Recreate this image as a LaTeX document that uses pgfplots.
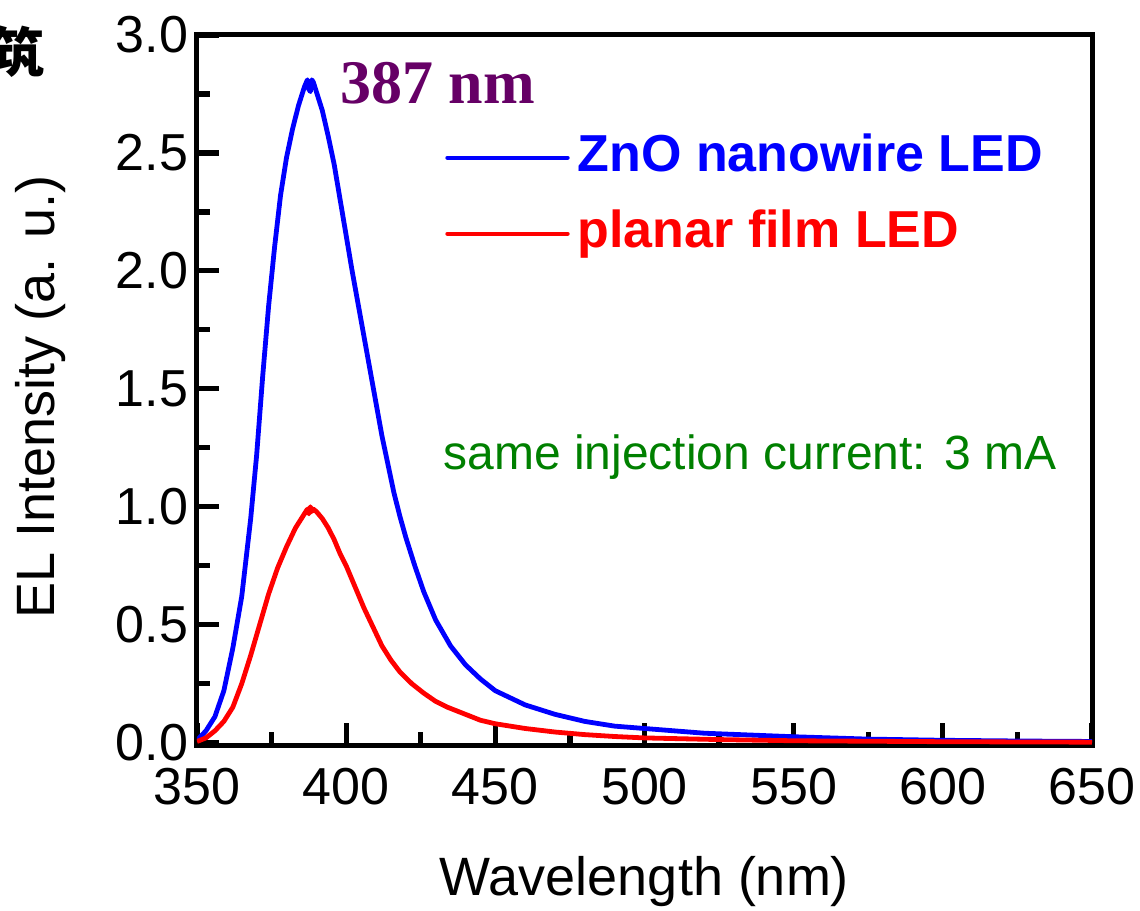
\documentclass[border=0pt]{standalone}
\usepackage{pgfplots}
\pgfplotsset{compat=1.18}
\usepackage{fontspec}
\setmainfont{Liberation Sans}
\newfontfamily\serifb{Liberation Serif}
\newfontfamily\cjk{Noto Sans CJK SC}
\definecolor{myblue}{RGB}{0,0,255}
\definecolor{myred}{RGB}{255,0,0}
\definecolor{mygreen}{RGB}{0,128,0}
\definecolor{mypurple}{RGB}{102,0,102}
\begin{document}
\begin{tikzpicture}
\useasboundingbox (-98.5pt,-82.5pt) rectangle (471.5pt,372.5pt);
\begin{axis}[
  scale only axis,
  width=447.5pt, height=355pt,
  xmin=350, xmax=650, ymin=-0.01, ymax=3.0,
  xtick={350,400,...,650},
  ytick={0,0.5,...,3.0},
  minor x tick num=1, minor y tick num=1,
  tick pos=left, tick align=inside,
  major tick length=11pt, minor tick length=6.5pt,
  every tick/.style={},
  tick style={draw=black, line width=2.6pt},
  axis line style={line width=2.5pt},
  /pgf/number format/assume math mode=true,
  yticklabel style={/pgf/number format/fixed, /pgf/number format/fixed zerofill, /pgf/number format/precision=1, xshift=-1pt},
  ticklabel style={font=\fontsize{26}{30}\selectfont},
  xticklabel style={yshift=-8pt},
  xlabel={Wavelength (nm)},
  ylabel={EL Intensity (a. u.)},
  label style={font=\fontsize{27}{32}\selectfont},
  xlabel style={at={(axis description cs:0.5,-0.193)}, anchor=center},
  ylabel style={at={(axis description cs:-0.175,0.49)}, anchor=center, rotate=0},
  legend style={draw=none, fill=none, at={(axis cs:433.1,2.583)}, anchor=north west,
    inner sep=0pt, row sep=14pt, column sep=4pt,
    nodes={inner sep=0pt, text height=19pt, text depth=5pt, anchor=west},
    font=\fontsize{26}{30}\selectfont\bfseries},
  legend image code/.code={\draw[#1, line width=2.2pt, line cap=round] (0pt,0pt) -- (60pt,0pt);},
  legend cell align=left,
]
\addplot[myblue, line width=2.4pt, line join=round] coordinates {
(350,0.01) (353,0.05) (356,0.11) (359,0.22) (362,0.40) (365,0.62) (368,0.95)
(370,1.22) (372,1.55) (374,1.85) (376,2.10) (378,2.32) (380,2.48) (382,2.60)
(384,2.70) (385,2.74) (386,2.78) (387,2.81) (387.5,2.77) (388,2.76) (388.5,2.81) (389,2.80) (390,2.76)
(392,2.68) (394,2.57) (396,2.45) (398,2.30) (400,2.15) (402,2.00) (404,1.86)
(406,1.72) (408,1.58) (410,1.44) (412,1.30) (414,1.18) (416,1.06) (418,0.96)
(420,0.87) (423,0.75) (426,0.64) (430,0.52) (435,0.41) (440,0.33) (445,0.27)
(450,0.22) (460,0.16) (470,0.12) (480,0.09) (490,0.07) (500,0.06) (520,0.04)
(550,0.025) (575,0.015) (600,0.01) (625,0.007) (650,0.005)
};
\addlegendentry{\textcolor{myblue}{ZnO nanowire LED}}
\addplot[myred, line width=2.4pt, line join=round] coordinates {
(350,0.005) (353,0.02) (356,0.05) (359,0.09) (362,0.15) (365,0.25) (368,0.37)
(371,0.50) (374,0.63) (377,0.74) (380,0.83) (383,0.91) (385,0.95) (386,0.97) (387,0.99)
(387.5,0.97) (388,1.00) (388.5,0.98) (389,0.99) (390,0.98)
(392,0.95) (394,0.91) (396,0.86) (398,0.80) (400,0.75) (403,0.66) (406,0.57)
(409,0.49) (412,0.41) (415,0.35) (418,0.30) (422,0.25) (426,0.21) (430,0.175)
(434,0.15) (440,0.12) (445,0.095) (450,0.08) (460,0.06) (470,0.045) (480,0.034)
(490,0.026) (500,0.02) (525,0.013) (550,0.008) (600,0.004) (650,0.002)
};
\addlegendentry{\textcolor{myred}{planar film LED}}
\node[anchor=west, inner sep=0pt, text=mypurple, font=\fontsize{31}{36}\serifb\bfseries] at (axis cs:397.9,2.797) {387 nm};
\node[anchor=west, inner sep=0pt, text=mygreen, font=\fontsize{24}{28}\selectfont] at (axis cs:432.5,1.21) {same injection current: 3 mA};
\end{axis}
\node[anchor=east, inner sep=0pt, font=\fontsize{27}{30}\cjk\bfseries] at (-76pt,346.5pt) {筑};
\end{tikzpicture}
\end{document}
